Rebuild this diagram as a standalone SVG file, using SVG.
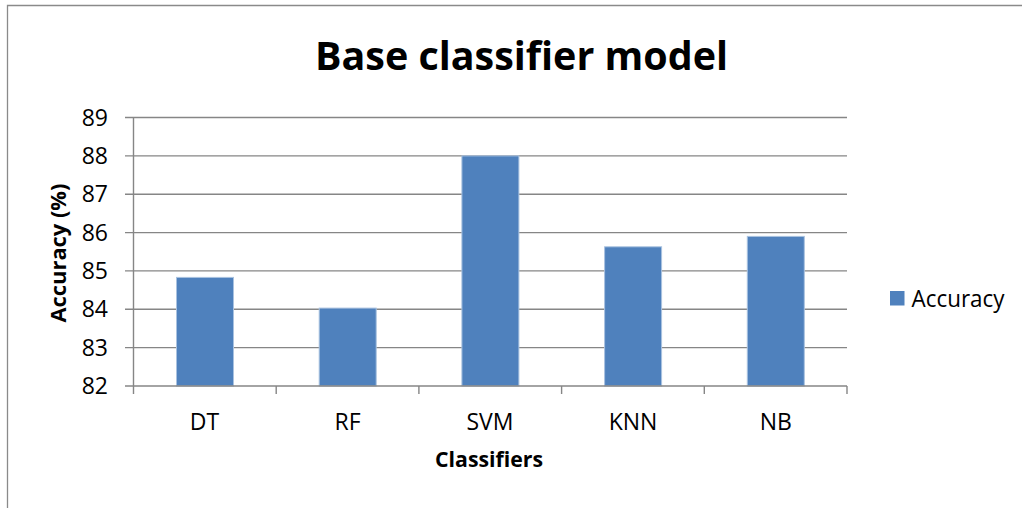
<svg xmlns="http://www.w3.org/2000/svg" width="1022" height="508" viewBox="0 0 1022 508">
  <style>
    .grid { stroke: #868686; stroke-width: 1.4; fill: none; }
    .axis { stroke: #868686; stroke-width: 1.4; fill: none; }
    .bar { fill: #4F81BD; stroke: #A9C2E0; stroke-width: 1; }
    .tick { font-family: "Open Sans", "Liberation Sans", sans-serif; font-size: 23px; fill: #000; }
    .ytick { text-anchor: end; }
    .xtick { text-anchor: middle; }
    .axtitle { font-family: "Open Sans", "Liberation Sans", sans-serif; font-size: 21px; font-weight: bold; fill: #000; text-anchor: middle; }
    .title { font-family: "Open Sans", "Liberation Sans", sans-serif; font-size: 40px; font-weight: bold; fill: #000; text-anchor: middle; }
  </style>
  <rect x="0" y="0" width="1022" height="508" fill="#ffffff"/>
  <g id="border">
    <path d="M7.5 508 V5.5 H1022" stroke="#8a8a8a" stroke-width="1.3" fill="none"/>
  </g>
  <g id="title">
    <text class="title" x="521.5" y="70" textLength="413" lengthAdjust="spacingAndGlyphs">Base classifier model</text>
  </g>
  <g id="gridlines">
    <line class="grid" x1="125" y1="117.5" x2="847" y2="117.5"/>
    <line class="grid" x1="125" y1="155.9" x2="847" y2="155.9"/>
    <line class="grid" x1="125" y1="194.2" x2="847" y2="194.2"/>
    <line class="grid" x1="125" y1="232.6" x2="847" y2="232.6"/>
    <line class="grid" x1="125" y1="270.9" x2="847" y2="270.9"/>
    <line class="grid" x1="125" y1="309.3" x2="847" y2="309.3"/>
    <line class="grid" x1="125" y1="347.6" x2="847" y2="347.6"/>
  </g>
  <g id="bars">
    <rect id="bar-DT" class="bar" x="176.5" y="277.4" width="57" height="108.6"/>
    <rect id="bar-RF" class="bar" x="319.2" y="308.1" width="57" height="77.9"/>
    <rect id="bar-SVM" class="bar" x="461.9" y="155.9" width="57" height="230.1"/>
    <rect id="bar-KNN" class="bar" x="604.6" y="246.8" width="57" height="139.2"/>
    <rect id="bar-NB" class="bar" x="747.3" y="236.4" width="57" height="149.6"/>
  </g>
  <g id="axes">
    <line class="axis" x1="133.5" y1="117" x2="133.5" y2="394"/>
    <line class="axis" x1="125" y1="386" x2="847" y2="386"/>
    <path class="axis" d="M276.2 386 V394 M418.9 386 V394 M561.6 386 V394 M704.3 386 V394 M847 386 V394"/>
  </g>
  <g id="y-ticks">
    <text class="tick ytick" x="108" y="125.5">89</text>
    <text class="tick ytick" x="108" y="163.9">88</text>
    <text class="tick ytick" x="108" y="202.2">87</text>
    <text class="tick ytick" x="108" y="240.6">86</text>
    <text class="tick ytick" x="108" y="278.9">85</text>
    <text class="tick ytick" x="108" y="317.3">84</text>
    <text class="tick ytick" x="108" y="355.6">83</text>
    <text class="tick ytick" x="108" y="394">82</text>
  </g>
  <g id="x-ticks">
    <text class="tick xtick" x="204.5" y="429.5">DT</text>
    <text class="tick xtick" x="347.5" y="429.5">RF</text>
    <text class="tick xtick" x="490" y="429.5">SVM</text>
    <text class="tick xtick" x="633" y="429.5">KNN</text>
    <text class="tick xtick" x="775.8" y="429.5">NB</text>
  </g>
  <g id="axis-titles">
    <text class="axtitle" x="489" y="467" textLength="108" lengthAdjust="spacingAndGlyphs">Classifiers</text>
    <text class="axtitle" transform="translate(66 253) rotate(-90)" x="0" y="0" textLength="139" lengthAdjust="spacingAndGlyphs">Accuracy (%)</text>
  </g>
  <g id="legend">
    <rect x="890" y="291" width="14.5" height="14.5" fill="#4F81BD"/>
    <text class="tick" x="911.5" y="306.5" textLength="93" lengthAdjust="spacingAndGlyphs">Accuracy</text>
  </g>
</svg>
